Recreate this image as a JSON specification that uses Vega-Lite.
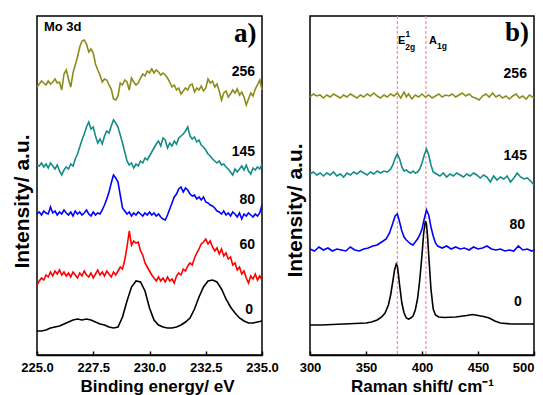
{
"$schema": "https://vega.github.io/schema/vega-lite/v6.json",
"padding": {"left": 10, "top": 14, "right": 5, "bottom": 0},
"spacing": 48,
"bounds": "flush",
"config": {
 "view": {"stroke": "black", "strokeWidth": 1.5},
 "font": "Liberation Sans",
 "axis": {"grid": false, "labelFont": "Liberation Sans", "labelFontWeight": "bold", "labelFontSize": 13, "labelColor": "black", "titleFont": "Liberation Sans", "titleFontWeight": "bold", "titleColor": "black", "domainColor": "black", "tickColor": "black"}
},
"datasets": {
 "xps": [
{"s":"0","x":225.0,"y":24},{"s":"0","x":225.2,"y":24},{"s":"0","x":225.4,"y":25},{"s":"0","x":225.6,"y":27},{"s":"0","x":225.8,"y":28},{"s":"0","x":226.0,"y":29},{"s":"0","x":226.2,"y":31},{"s":"0","x":226.4,"y":33},{"s":"0","x":226.6,"y":35},{"s":"0","x":226.8,"y":36},{"s":"0","x":227.0,"y":35},{"s":"0","x":227.2,"y":36},{"s":"0","x":227.4,"y":35},{"s":"0","x":227.6,"y":33},{"s":"0","x":227.8,"y":31},{"s":"0","x":228.0,"y":30},{"s":"0","x":228.2,"y":28},{"s":"0","x":228.4,"y":27},{"s":"0","x":228.6,"y":28},{"s":"0","x":228.8,"y":38},{"s":"0","x":229.0,"y":54},{"s":"0","x":229.2,"y":68},{"s":"0","x":229.4,"y":74},{"s":"0","x":229.6,"y":73},{"s":"0","x":229.8,"y":64},{"s":"0","x":230.0,"y":47},{"s":"0","x":230.2,"y":35},{"s":"0","x":230.4,"y":30},{"s":"0","x":230.6,"y":28},{"s":"0","x":230.8,"y":27},{"s":"0","x":231.0,"y":27},{"s":"0","x":231.2,"y":28},{"s":"0","x":231.4,"y":30},{"s":"0","x":231.6,"y":33},{"s":"0","x":231.8,"y":37},{"s":"0","x":232.0,"y":46},{"s":"0","x":232.2,"y":58},{"s":"0","x":232.4,"y":68},{"s":"0","x":232.6,"y":74},{"s":"0","x":232.8,"y":75},{"s":"0","x":233.0,"y":73},{"s":"0","x":233.2,"y":66},{"s":"0","x":233.4,"y":56},{"s":"0","x":233.6,"y":48},{"s":"0","x":233.8,"y":42},{"s":"0","x":234.0,"y":37},{"s":"0","x":234.2,"y":34},{"s":"0","x":234.4,"y":32},{"s":"0","x":234.6,"y":32},{"s":"0","x":234.8,"y":33},{"s":"0","x":235.0,"y":34},
{"s":"60","x":225.0,"y":70},{"s":"60","x":225.1,"y":74},{"s":"60","x":225.2,"y":77},{"s":"60","x":225.3,"y":75},{"s":"60","x":225.4,"y":80},{"s":"60","x":225.5,"y":78},{"s":"60","x":225.6,"y":83},{"s":"60","x":225.7,"y":79},{"s":"60","x":225.8,"y":84},{"s":"60","x":225.9,"y":81},{"s":"60","x":226.0,"y":85},{"s":"60","x":226.1,"y":80},{"s":"60","x":226.2,"y":83},{"s":"60","x":226.3,"y":79},{"s":"60","x":226.4,"y":82},{"s":"60","x":226.5,"y":78},{"s":"60","x":226.6,"y":83},{"s":"60","x":226.7,"y":80},{"s":"60","x":226.8,"y":77},{"s":"60","x":226.9,"y":82},{"s":"60","x":227.0,"y":79},{"s":"60","x":227.1,"y":84},{"s":"60","x":227.2,"y":80},{"s":"60","x":227.3,"y":78},{"s":"60","x":227.4,"y":82},{"s":"60","x":227.5,"y":77},{"s":"60","x":227.6,"y":81},{"s":"60","x":227.7,"y":85},{"s":"60","x":227.8,"y":80},{"s":"60","x":227.9,"y":83},{"s":"60","x":228.0,"y":79},{"s":"60","x":228.1,"y":84},{"s":"60","x":228.2,"y":81},{"s":"60","x":228.3,"y":78},{"s":"60","x":228.4,"y":83},{"s":"60","x":228.5,"y":80},{"s":"60","x":228.6,"y":84},{"s":"60","x":228.7,"y":88},{"s":"60","x":228.8,"y":86},{"s":"60","x":228.9,"y":95},{"s":"60","x":229.0,"y":108},{"s":"60","x":229.1,"y":124},{"s":"60","x":229.2,"y":110},{"s":"60","x":229.3,"y":114},{"s":"60","x":229.4,"y":112},{"s":"60","x":229.5,"y":113},{"s":"60","x":229.6,"y":104},{"s":"60","x":229.7,"y":100},{"s":"60","x":229.8,"y":92},{"s":"60","x":229.9,"y":88},{"s":"60","x":230.0,"y":84},{"s":"60","x":230.1,"y":80},{"s":"60","x":230.2,"y":77},{"s":"60","x":230.3,"y":74},{"s":"60","x":230.4,"y":78},{"s":"60","x":230.5,"y":74},{"s":"60","x":230.6,"y":77},{"s":"60","x":230.7,"y":73},{"s":"60","x":230.8,"y":78},{"s":"60","x":230.9,"y":74},{"s":"60","x":231.0,"y":76},{"s":"60","x":231.1,"y":72},{"s":"60","x":231.2,"y":79},{"s":"60","x":231.3,"y":82},{"s":"60","x":231.4,"y":80},{"s":"60","x":231.5,"y":86},{"s":"60","x":231.6,"y":84},{"s":"60","x":231.7,"y":89},{"s":"60","x":231.8,"y":92},{"s":"60","x":231.9,"y":90},{"s":"60","x":232.0,"y":97},{"s":"60","x":232.1,"y":102},{"s":"60","x":232.2,"y":106},{"s":"60","x":232.3,"y":111},{"s":"60","x":232.4,"y":113},{"s":"60","x":232.5,"y":116},{"s":"60","x":232.6,"y":111},{"s":"60","x":232.7,"y":114},{"s":"60","x":232.8,"y":108},{"s":"60","x":232.9,"y":104},{"s":"60","x":233.0,"y":107},{"s":"60","x":233.1,"y":101},{"s":"60","x":233.2,"y":106},{"s":"60","x":233.3,"y":99},{"s":"60","x":233.4,"y":102},{"s":"60","x":233.5,"y":96},{"s":"60","x":233.6,"y":98},{"s":"60","x":233.7,"y":90},{"s":"60","x":233.8,"y":92},{"s":"60","x":233.9,"y":85},{"s":"60","x":234.0,"y":88},{"s":"60","x":234.1,"y":81},{"s":"60","x":234.2,"y":84},{"s":"60","x":234.3,"y":77},{"s":"60","x":234.4,"y":72},{"s":"60","x":234.5,"y":79},{"s":"60","x":234.6,"y":76},{"s":"60","x":234.7,"y":81},{"s":"60","x":234.8,"y":75},{"s":"60","x":234.9,"y":79},{"s":"60","x":235.0,"y":75},
{"s":"80","x":225.0,"y":141},{"s":"80","x":225.1,"y":143},{"s":"80","x":225.2,"y":140},{"s":"80","x":225.3,"y":144},{"s":"80","x":225.4,"y":142},{"s":"80","x":225.5,"y":141},{"s":"80","x":225.6,"y":148},{"s":"80","x":225.7,"y":142},{"s":"80","x":225.8,"y":144},{"s":"80","x":225.9,"y":140},{"s":"80","x":226.0,"y":143},{"s":"80","x":226.1,"y":141},{"s":"80","x":226.2,"y":145},{"s":"80","x":226.3,"y":142},{"s":"80","x":226.4,"y":140},{"s":"80","x":226.5,"y":143},{"s":"80","x":226.6,"y":139},{"s":"80","x":226.7,"y":144},{"s":"80","x":226.8,"y":141},{"s":"80","x":226.9,"y":143},{"s":"80","x":227.0,"y":140},{"s":"80","x":227.1,"y":142},{"s":"80","x":227.2,"y":145},{"s":"80","x":227.3,"y":141},{"s":"80","x":227.4,"y":139},{"s":"80","x":227.5,"y":143},{"s":"80","x":227.6,"y":140},{"s":"80","x":227.7,"y":142},{"s":"80","x":227.8,"y":141},{"s":"80","x":227.9,"y":145},{"s":"80","x":228.0,"y":150},{"s":"80","x":228.1,"y":156},{"s":"80","x":228.2,"y":163},{"s":"80","x":228.3,"y":172},{"s":"80","x":228.4,"y":180},{"s":"80","x":228.5,"y":177},{"s":"80","x":228.6,"y":173},{"s":"80","x":228.7,"y":160},{"s":"80","x":228.8,"y":147},{"s":"80","x":228.9,"y":144},{"s":"80","x":229.0,"y":141},{"s":"80","x":229.1,"y":143},{"s":"80","x":229.2,"y":139},{"s":"80","x":229.3,"y":142},{"s":"80","x":229.4,"y":140},{"s":"80","x":229.5,"y":143},{"s":"80","x":229.6,"y":141},{"s":"80","x":229.7,"y":139},{"s":"80","x":229.8,"y":142},{"s":"80","x":229.9,"y":140},{"s":"80","x":230.0,"y":143},{"s":"80","x":230.1,"y":140},{"s":"80","x":230.2,"y":142},{"s":"80","x":230.3,"y":139},{"s":"80","x":230.4,"y":141},{"s":"80","x":230.5,"y":138},{"s":"80","x":230.6,"y":136},{"s":"80","x":230.7,"y":135},{"s":"80","x":230.8,"y":140},{"s":"80","x":230.9,"y":146},{"s":"80","x":231.0,"y":152},{"s":"80","x":231.1,"y":158},{"s":"80","x":231.2,"y":161},{"s":"80","x":231.3,"y":166},{"s":"80","x":231.4,"y":168},{"s":"80","x":231.5,"y":163},{"s":"80","x":231.6,"y":167},{"s":"80","x":231.7,"y":165},{"s":"80","x":231.8,"y":161},{"s":"80","x":231.9,"y":159},{"s":"80","x":232.0,"y":160},{"s":"80","x":232.1,"y":156},{"s":"80","x":232.2,"y":158},{"s":"80","x":232.3,"y":155},{"s":"80","x":232.4,"y":158},{"s":"80","x":232.5,"y":153},{"s":"80","x":232.6,"y":152},{"s":"80","x":232.7,"y":150},{"s":"80","x":232.8,"y":149},{"s":"80","x":232.9,"y":147},{"s":"80","x":233.0,"y":144},{"s":"80","x":233.1,"y":143},{"s":"80","x":233.2,"y":141},{"s":"80","x":233.3,"y":144},{"s":"80","x":233.4,"y":140},{"s":"80","x":233.5,"y":142},{"s":"80","x":233.6,"y":139},{"s":"80","x":233.7,"y":143},{"s":"80","x":233.8,"y":141},{"s":"80","x":233.9,"y":138},{"s":"80","x":234.0,"y":142},{"s":"80","x":234.1,"y":136},{"s":"80","x":234.2,"y":141},{"s":"80","x":234.3,"y":139},{"s":"80","x":234.4,"y":142},{"s":"80","x":234.5,"y":140},{"s":"80","x":234.6,"y":138},{"s":"80","x":234.7,"y":141},{"s":"80","x":234.8,"y":139},{"s":"80","x":234.9,"y":142},{"s":"80","x":235.0,"y":150},
{"s":"145","x":225.0,"y":190},{"s":"145","x":225.1,"y":189},{"s":"145","x":225.2,"y":192},{"s":"145","x":225.3,"y":188},{"s":"145","x":225.4,"y":191},{"s":"145","x":225.5,"y":187},{"s":"145","x":225.6,"y":192},{"s":"145","x":225.7,"y":189},{"s":"145","x":225.8,"y":186},{"s":"145","x":225.9,"y":190},{"s":"145","x":226.0,"y":184},{"s":"145","x":226.1,"y":180},{"s":"145","x":226.2,"y":185},{"s":"145","x":226.3,"y":188},{"s":"145","x":226.4,"y":186},{"s":"145","x":226.5,"y":191},{"s":"145","x":226.6,"y":189},{"s":"145","x":226.7,"y":196},{"s":"145","x":226.8,"y":201},{"s":"145","x":226.9,"y":208},{"s":"145","x":227.0,"y":215},{"s":"145","x":227.1,"y":221},{"s":"145","x":227.2,"y":228},{"s":"145","x":227.3,"y":233},{"s":"145","x":227.4,"y":226},{"s":"145","x":227.5,"y":228},{"s":"145","x":227.6,"y":219},{"s":"145","x":227.7,"y":212},{"s":"145","x":227.8,"y":216},{"s":"145","x":227.9,"y":211},{"s":"145","x":228.0,"y":219},{"s":"145","x":228.1,"y":224},{"s":"145","x":228.2,"y":222},{"s":"145","x":228.3,"y":229},{"s":"145","x":228.4,"y":235},{"s":"145","x":228.5,"y":232},{"s":"145","x":228.6,"y":228},{"s":"145","x":228.7,"y":220},{"s":"145","x":228.8,"y":212},{"s":"145","x":228.9,"y":203},{"s":"145","x":229.0,"y":194},{"s":"145","x":229.1,"y":190},{"s":"145","x":229.2,"y":192},{"s":"145","x":229.3,"y":187},{"s":"145","x":229.4,"y":191},{"s":"145","x":229.5,"y":189},{"s":"145","x":229.6,"y":194},{"s":"145","x":229.7,"y":192},{"s":"145","x":229.8,"y":197},{"s":"145","x":229.9,"y":195},{"s":"145","x":230.0,"y":199},{"s":"145","x":230.1,"y":203},{"s":"145","x":230.2,"y":207},{"s":"145","x":230.3,"y":211},{"s":"145","x":230.4,"y":214},{"s":"145","x":230.5,"y":209},{"s":"145","x":230.6,"y":217},{"s":"145","x":230.7,"y":215},{"s":"145","x":230.8,"y":207},{"s":"145","x":230.9,"y":212},{"s":"145","x":231.0,"y":209},{"s":"145","x":231.1,"y":214},{"s":"145","x":231.2,"y":211},{"s":"145","x":231.3,"y":217},{"s":"145","x":231.4,"y":219},{"s":"145","x":231.5,"y":221},{"s":"145","x":231.6,"y":224},{"s":"145","x":231.7,"y":228},{"s":"145","x":231.8,"y":219},{"s":"145","x":231.9,"y":216},{"s":"145","x":232.0,"y":218},{"s":"145","x":232.1,"y":213},{"s":"145","x":232.2,"y":215},{"s":"145","x":232.3,"y":210},{"s":"145","x":232.4,"y":208},{"s":"145","x":232.5,"y":205},{"s":"145","x":232.6,"y":201},{"s":"145","x":232.7,"y":199},{"s":"145","x":232.8,"y":196},{"s":"145","x":232.9,"y":194},{"s":"145","x":233.0,"y":192},{"s":"145","x":233.1,"y":194},{"s":"145","x":233.2,"y":190},{"s":"145","x":233.3,"y":191},{"s":"145","x":233.4,"y":188},{"s":"145","x":233.5,"y":186},{"s":"145","x":233.6,"y":183},{"s":"145","x":233.7,"y":180},{"s":"145","x":233.8,"y":186},{"s":"145","x":233.9,"y":183},{"s":"145","x":234.0,"y":186},{"s":"145","x":234.1,"y":189},{"s":"145","x":234.2,"y":185},{"s":"145","x":234.3,"y":190},{"s":"145","x":234.4,"y":184},{"s":"145","x":234.5,"y":181},{"s":"145","x":234.6,"y":187},{"s":"145","x":234.7,"y":185},{"s":"145","x":234.8,"y":188},{"s":"145","x":234.9,"y":186},{"s":"145","x":235.0,"y":191},
{"s":"256","x":225.0,"y":268},{"s":"256","x":225.1,"y":271},{"s":"256","x":225.2,"y":274},{"s":"256","x":225.3,"y":272},{"s":"256","x":225.4,"y":270},{"s":"256","x":225.5,"y":274},{"s":"256","x":225.6,"y":271},{"s":"256","x":225.7,"y":273},{"s":"256","x":225.8,"y":276},{"s":"256","x":225.9,"y":272},{"s":"256","x":226.0,"y":273},{"s":"256","x":226.1,"y":265},{"s":"256","x":226.2,"y":281},{"s":"256","x":226.3,"y":285},{"s":"256","x":226.4,"y":276},{"s":"256","x":226.5,"y":268},{"s":"256","x":226.6,"y":282},{"s":"256","x":226.7,"y":290},{"s":"256","x":226.8,"y":298},{"s":"256","x":226.9,"y":308},{"s":"256","x":227.0,"y":314},{"s":"256","x":227.1,"y":315},{"s":"256","x":227.2,"y":311},{"s":"256","x":227.3,"y":303},{"s":"256","x":227.4,"y":306},{"s":"256","x":227.5,"y":302},{"s":"256","x":227.6,"y":291},{"s":"256","x":227.7,"y":285},{"s":"256","x":227.8,"y":280},{"s":"256","x":227.9,"y":273},{"s":"256","x":228.0,"y":276},{"s":"256","x":228.1,"y":275},{"s":"256","x":228.2,"y":270},{"s":"256","x":228.3,"y":266},{"s":"256","x":228.4,"y":256},{"s":"256","x":228.5,"y":255},{"s":"256","x":228.6,"y":259},{"s":"256","x":228.7,"y":272},{"s":"256","x":228.8,"y":270},{"s":"256","x":228.9,"y":275},{"s":"256","x":229.0,"y":273},{"s":"256","x":229.1,"y":265},{"s":"256","x":229.2,"y":277},{"s":"256","x":229.3,"y":273},{"s":"256","x":229.4,"y":270},{"s":"256","x":229.5,"y":272},{"s":"256","x":229.6,"y":277},{"s":"256","x":229.7,"y":281},{"s":"256","x":229.8,"y":279},{"s":"256","x":229.9,"y":284},{"s":"256","x":230.0,"y":282},{"s":"256","x":230.1,"y":286},{"s":"256","x":230.2,"y":282},{"s":"256","x":230.3,"y":285},{"s":"256","x":230.4,"y":283},{"s":"256","x":230.5,"y":280},{"s":"256","x":230.6,"y":282},{"s":"256","x":230.7,"y":280},{"s":"256","x":230.8,"y":277},{"s":"256","x":230.9,"y":273},{"s":"256","x":231.0,"y":268},{"s":"256","x":231.1,"y":270},{"s":"256","x":231.2,"y":265},{"s":"256","x":231.3,"y":267},{"s":"256","x":231.4,"y":261},{"s":"256","x":231.5,"y":264},{"s":"256","x":231.6,"y":267},{"s":"256","x":231.7,"y":265},{"s":"256","x":231.8,"y":270},{"s":"256","x":231.9,"y":271},{"s":"256","x":232.0,"y":263},{"s":"256","x":232.1,"y":267},{"s":"256","x":232.2,"y":265},{"s":"256","x":232.3,"y":269},{"s":"256","x":232.4,"y":264},{"s":"256","x":232.5,"y":267},{"s":"256","x":232.6,"y":276},{"s":"256","x":232.7,"y":272},{"s":"256","x":232.8,"y":274},{"s":"256","x":232.9,"y":268},{"s":"256","x":233.0,"y":271},{"s":"256","x":233.1,"y":264},{"s":"256","x":233.2,"y":255},{"s":"256","x":233.3,"y":262},{"s":"256","x":233.4,"y":264},{"s":"256","x":233.5,"y":258},{"s":"256","x":233.6,"y":261},{"s":"256","x":233.7,"y":265},{"s":"256","x":233.8,"y":262},{"s":"256","x":233.9,"y":266},{"s":"256","x":234.0,"y":260},{"s":"256","x":234.1,"y":263},{"s":"256","x":234.2,"y":258},{"s":"256","x":234.3,"y":250},{"s":"256","x":234.4,"y":256},{"s":"256","x":234.5,"y":262},{"s":"256","x":234.6,"y":259},{"s":"256","x":234.7,"y":266},{"s":"256","x":234.8,"y":270},{"s":"256","x":234.9,"y":275},{"s":"256","x":235.0,"y":265}
 ],
 "raman": [
{"s":"0","x":300,"y":30},{"s":"0","x":310,"y":30},{"s":"0","x":320,"y":30.5},{"s":"0","x":330,"y":31},{"s":"0","x":340,"y":31.5},{"s":"0","x":350,"y":32},{"s":"0","x":355,"y":33},{"s":"0","x":360,"y":35},{"s":"0","x":364,"y":38},{"s":"0","x":367,"y":42},{"s":"0","x":370,"y":50},{"s":"0","x":372,"y":60},{"s":"0","x":374,"y":74},{"s":"0","x":375.5,"y":85},{"s":"0","x":377,"y":91},{"s":"0","x":378,"y":89},{"s":"0","x":379,"y":80},{"s":"0","x":380,"y":70},{"s":"0","x":382,"y":52},{"s":"0","x":384,"y":42},{"s":"0","x":386,"y":37},{"s":"0","x":388,"y":36},{"s":"0","x":390,"y":37},{"s":"0","x":392,"y":39},{"s":"0","x":394,"y":45},{"s":"0","x":396,"y":56},{"s":"0","x":398,"y":75},{"s":"0","x":400,"y":100},{"s":"0","x":401.5,"y":122},{"s":"0","x":403,"y":134},{"s":"0","x":404,"y":131},{"s":"0","x":405,"y":118},{"s":"0","x":406,"y":100},{"s":"0","x":408,"y":66},{"s":"0","x":410,"y":46},{"s":"0","x":412,"y":40},{"s":"0","x":415,"y":38},{"s":"0","x":420,"y":37.5},{"s":"0","x":430,"y":38},{"s":"0","x":440,"y":39.5},{"s":"0","x":445,"y":40.5},{"s":"0","x":450,"y":39.5},{"s":"0","x":455,"y":38.5},{"s":"0","x":460,"y":37},{"s":"0","x":465,"y":34},{"s":"0","x":470,"y":32},{"s":"0","x":480,"y":31},{"s":"0","x":490,"y":31},{"s":"0","x":500,"y":31},
{"s":"80","x":300,"y":106},{"s":"80","x":304,"y":104},{"s":"80","x":308,"y":108},{"s":"80","x":312,"y":105},{"s":"80","x":316,"y":107},{"s":"80","x":320,"y":104},{"s":"80","x":324,"y":106},{"s":"80","x":328,"y":105},{"s":"80","x":332,"y":104},{"s":"80","x":336,"y":108},{"s":"80","x":340,"y":105},{"s":"80","x":344,"y":104},{"s":"80","x":348,"y":106},{"s":"80","x":352,"y":107},{"s":"80","x":356,"y":109},{"s":"80","x":360,"y":110},{"s":"80","x":364,"y":113},{"s":"80","x":368,"y":116},{"s":"80","x":371,"y":122},{"s":"80","x":374,"y":132},{"s":"80","x":376,"y":139},{"s":"80","x":378,"y":141},{"s":"80","x":380,"y":133},{"s":"80","x":382,"y":124},{"s":"80","x":384,"y":118},{"s":"80","x":386,"y":115},{"s":"80","x":388,"y":113},{"s":"80","x":390,"y":111},{"s":"80","x":392,"y":110},{"s":"80","x":394,"y":113},{"s":"80","x":396,"y":116},{"s":"80","x":398,"y":120},{"s":"80","x":400,"y":126},{"s":"80","x":402,"y":136},{"s":"80","x":404,"y":145},{"s":"80","x":406,"y":140},{"s":"80","x":408,"y":128},{"s":"80","x":410,"y":119},{"s":"80","x":412,"y":112},{"s":"80","x":414,"y":109},{"s":"80","x":418,"y":107},{"s":"80","x":422,"y":109},{"s":"80","x":426,"y":106},{"s":"80","x":430,"y":108},{"s":"80","x":434,"y":106},{"s":"80","x":438,"y":107},{"s":"80","x":442,"y":105},{"s":"80","x":446,"y":108},{"s":"80","x":450,"y":106},{"s":"80","x":454,"y":107},{"s":"80","x":458,"y":109},{"s":"80","x":462,"y":106},{"s":"80","x":466,"y":105},{"s":"80","x":470,"y":106},{"s":"80","x":474,"y":104},{"s":"80","x":478,"y":105},{"s":"80","x":482,"y":104},{"s":"80","x":486,"y":109},{"s":"80","x":490,"y":105},{"s":"80","x":494,"y":106},{"s":"80","x":498,"y":104},{"s":"80","x":500,"y":105},
{"s":"145","x":300,"y":181},{"s":"145","x":303,"y":183},{"s":"145","x":306,"y":180},{"s":"145","x":309,"y":182},{"s":"145","x":312,"y":179},{"s":"145","x":315,"y":182},{"s":"145","x":318,"y":180},{"s":"145","x":321,"y":183},{"s":"145","x":324,"y":179},{"s":"145","x":327,"y":181},{"s":"145","x":330,"y":178},{"s":"145","x":333,"y":182},{"s":"145","x":336,"y":180},{"s":"145","x":339,"y":183},{"s":"145","x":342,"y":181},{"s":"145","x":345,"y":184},{"s":"145","x":348,"y":182},{"s":"145","x":351,"y":180},{"s":"145","x":354,"y":183},{"s":"145","x":357,"y":181},{"s":"145","x":360,"y":184},{"s":"145","x":363,"y":182},{"s":"145","x":366,"y":184},{"s":"145","x":369,"y":183},{"s":"145","x":372,"y":186},{"s":"145","x":374,"y":190},{"s":"145","x":376,"y":197},{"s":"145","x":378,"y":201},{"s":"145","x":380,"y":196},{"s":"145","x":382,"y":188},{"s":"145","x":384,"y":184},{"s":"145","x":386,"y":185},{"s":"145","x":388,"y":183},{"s":"145","x":390,"y":182},{"s":"145","x":392,"y":184},{"s":"145","x":394,"y":182},{"s":"145","x":396,"y":183},{"s":"145","x":398,"y":186},{"s":"145","x":400,"y":192},{"s":"145","x":402,"y":200},{"s":"145","x":404,"y":206},{"s":"145","x":406,"y":200},{"s":"145","x":408,"y":190},{"s":"145","x":410,"y":183},{"s":"145","x":413,"y":181},{"s":"145","x":416,"y":179},{"s":"145","x":419,"y":182},{"s":"145","x":422,"y":178},{"s":"145","x":425,"y":181},{"s":"145","x":428,"y":179},{"s":"145","x":431,"y":182},{"s":"145","x":434,"y":180},{"s":"145","x":437,"y":178},{"s":"145","x":440,"y":181},{"s":"145","x":443,"y":179},{"s":"145","x":446,"y":182},{"s":"145","x":449,"y":180},{"s":"145","x":452,"y":177},{"s":"145","x":455,"y":180},{"s":"145","x":458,"y":178},{"s":"145","x":461,"y":173},{"s":"145","x":464,"y":179},{"s":"145","x":467,"y":175},{"s":"145","x":470,"y":178},{"s":"145","x":473,"y":176},{"s":"145","x":476,"y":179},{"s":"145","x":479,"y":173},{"s":"145","x":482,"y":177},{"s":"145","x":485,"y":182},{"s":"145","x":488,"y":178},{"s":"145","x":491,"y":176},{"s":"145","x":494,"y":177},{"s":"145","x":497,"y":174},{"s":"145","x":500,"y":170},
{"s":"256","x":300,"y":258},{"s":"256","x":303,"y":261},{"s":"256","x":306,"y":259},{"s":"256","x":309,"y":260},{"s":"256","x":312,"y":257},{"s":"256","x":315,"y":260},{"s":"256","x":318,"y":258},{"s":"256","x":321,"y":261},{"s":"256","x":324,"y":259},{"s":"256","x":327,"y":257},{"s":"256","x":330,"y":260},{"s":"256","x":333,"y":258},{"s":"256","x":336,"y":261},{"s":"256","x":339,"y":259},{"s":"256","x":342,"y":257},{"s":"256","x":345,"y":260},{"s":"256","x":348,"y":258},{"s":"256","x":351,"y":261},{"s":"256","x":354,"y":259},{"s":"256","x":357,"y":262},{"s":"256","x":360,"y":259},{"s":"256","x":363,"y":257},{"s":"256","x":366,"y":260},{"s":"256","x":369,"y":258},{"s":"256","x":372,"y":261},{"s":"256","x":375,"y":259},{"s":"256","x":378,"y":262},{"s":"256","x":381,"y":257},{"s":"256","x":384,"y":263},{"s":"256","x":386,"y":258},{"s":"256","x":388,"y":261},{"s":"256","x":391,"y":256},{"s":"256","x":394,"y":260},{"s":"256","x":397,"y":258},{"s":"256","x":400,"y":261},{"s":"256","x":403,"y":258},{"s":"256","x":406,"y":260},{"s":"256","x":409,"y":257},{"s":"256","x":412,"y":259},{"s":"256","x":415,"y":261},{"s":"256","x":418,"y":258},{"s":"256","x":421,"y":260},{"s":"256","x":424,"y":259},{"s":"256","x":427,"y":261},{"s":"256","x":430,"y":258},{"s":"256","x":433,"y":260},{"s":"256","x":436,"y":262},{"s":"256","x":439,"y":259},{"s":"256","x":442,"y":261},{"s":"256","x":445,"y":258},{"s":"256","x":448,"y":257},{"s":"256","x":451,"y":255},{"s":"256","x":454,"y":259},{"s":"256","x":457,"y":261},{"s":"256","x":460,"y":258},{"s":"256","x":463,"y":262},{"s":"256","x":466,"y":258},{"s":"256","x":469,"y":260},{"s":"256","x":472,"y":257},{"s":"256","x":475,"y":259},{"s":"256","x":478,"y":256},{"s":"256","x":481,"y":259},{"s":"256","x":484,"y":261},{"s":"256","x":487,"y":257},{"s":"256","x":490,"y":259},{"s":"256","x":493,"y":256},{"s":"256","x":496,"y":260},{"s":"256","x":500,"y":257}
 ],
 "labA": [{"x":234.69,"y":283,"t":"256"},{"x":234.69,"y":203,"t":"145"},{"x":234.69,"y":155,"t":"80"},{"x":234.69,"y":110,"t":"60"},{"x":234.6,"y":45,"t":"0"}],
 "labB": [{"x":493.7,"y":281,"t":"256"},{"x":493.7,"y":199,"t":"145"},{"x":492,"y":130,"t":"80"},{"x":489,"y":53,"t":"0"}],
 "peaks": [{"x":378},{"x":403.5}]
},
"hconcat": [
 {
  "width": 225, "height": 339,
  "layer": [
   {
    "data": {"name": "xps"},
    "mark": {"type": "line", "strokeWidth": 1.6},
    "encoding": {
     "x": {"field": "x", "type": "quantitative", "scale": {"domain": [225, 235], "nice": false, "zero": false},
       "axis": {"title": "Binding energy/ eV", "values": [225, 226.25, 227.5, 228.75, 230, 231.25, 232.5, 233.75, 235],
         "labelExpr": "datum.value % 2.5 === 0 ? format(datum.value, '.1f') : ''", "labelOverlap": false, "labelFlush": false,
         "tickSize": -4, "tickWidth": 1.5, "domainWidth": 1.5, "labelPadding": 20, "labelBaseline": "alphabetic",
         "titleFontSize": 17, "titleBaseline": "alphabetic", "titleY": 36, "titleX": 120}},
     "y": {"field": "y", "type": "quantitative", "scale": {"domain": [0, 339], "nice": false, "zero": false},
       "axis": {"title": "Intensity/ a.u.", "labels": false, "ticks": false, "domain": false, "titleFontSize": 21, "titlePadding": 5, "titleY": 185}},
     "color": {"field": "s", "type": "nominal", "scale": {"domain": ["0", "60", "80", "145", "256"], "range": ["#000000", "#ff0000", "#0000ff", "#138c87", "#8c8c1a"]}, "legend": null}
    }
   },
   {
    "data": {"name": "labA"},
    "mark": {"type": "text", "align": "right", "baseline": "middle", "fontSize": 14, "fontWeight": "bold", "font": "Liberation Sans", "color": "black"},
    "encoding": {
     "x": {"field": "x", "type": "quantitative"},
     "y": {"field": "y", "type": "quantitative"},
     "text": {"field": "t"}
    }
   },
   {
    "data": {"values": [{"x": 225.31, "y": 328, "t": "Mo 3d"}]},
    "mark": {"type": "text", "align": "left", "baseline": "middle", "fontSize": 13, "fontWeight": "bold", "font": "Liberation Sans", "color": "black"},
    "encoding": {
     "x": {"field": "x", "type": "quantitative"},
     "y": {"field": "y", "type": "quantitative"},
     "text": {"field": "t"}
    }
   },
   {
    "data": {"values": [{"x": 234.75, "y": 321, "t": "a)"}]},
    "mark": {"type": "text", "align": "right", "baseline": "middle", "fontSize": 27, "fontWeight": "bold", "font": "Liberation Serif", "color": "black"},
    "encoding": {
     "x": {"field": "x", "type": "quantitative"},
     "y": {"field": "y", "type": "quantitative"},
     "text": {"field": "t"}
    }
   }
  ]
 },
 {
  "width": 224, "height": 339,
  "layer": [
   {
    "data": {"name": "peaks"},
    "mark": {"type": "rule", "color": "#ff8a8a", "strokeDash": [3, 2], "strokeWidth": 1.2},
    "encoding": {
     "x": {"field": "x", "type": "quantitative"}
    }
   },
   {
    "data": {"name": "raman"},
    "mark": {"type": "line", "strokeWidth": 1.6},
    "encoding": {
     "x": {"field": "x", "type": "quantitative", "scale": {"domain": [300, 500], "nice": false, "zero": false},
       "axis": {"title": "Raman shift/ cm⁻¹", "values": [300, 325, 350, 375, 400, 425, 450, 475, 500],
         "labelExpr": "datum.value % 50 === 0 ? format(datum.value, 'd') : ''", "labelOverlap": false, "labelFlush": false,
         "tickSize": -4, "tickWidth": 1.5, "domainWidth": 1.5, "labelPadding": 20, "labelBaseline": "alphabetic",
         "labelAlign": {"condition": {"test": "datum.value === 500", "value": "right"}, "value": "center"},
         "titleFontSize": 17, "titleBaseline": "alphabetic", "titleY": 36}},
     "y": {"field": "y", "type": "quantitative", "scale": {"domain": [0, 339], "nice": false, "zero": false},
       "axis": {"title": "Intensity/ a.u.", "labels": false, "ticks": false, "domain": false, "titleFontSize": 21, "titlePadding": 5, "titleY": 194}},
     "color": {"field": "s", "type": "nominal", "scale": {"domain": ["0", "60", "80", "145", "256"], "range": ["#000000", "#ff0000", "#0000ff", "#138c87", "#8c8c1a"]}, "legend": null}
    }
   },
   {
    "data": {"name": "labB"},
    "mark": {"type": "text", "align": "right", "baseline": "middle", "fontSize": 14, "fontWeight": "bold", "font": "Liberation Sans", "color": "black"},
    "encoding": {
     "x": {"field": "x", "type": "quantitative"},
     "y": {"field": "y", "type": "quantitative"},
     "text": {"field": "t"}
    }
   },
   {
    "data": {"values": [{"x": 495.5, "y": 322, "t": "b)"}]},
    "mark": {"type": "text", "align": "right", "baseline": "middle", "fontSize": 27, "fontWeight": "bold", "font": "Liberation Serif", "color": "black"},
    "encoding": {
     "x": {"field": "x", "type": "quantitative"},
     "y": {"field": "y", "type": "quantitative"},
     "text": {"field": "t"}
    }
   },
   {
    "data": {"values": [{"x": 378.6, "y": 314.5, "t": "E"}, {"x": 406.3, "y": 314.5, "t": "A"}]},
    "mark": {"type": "text", "align": "left", "baseline": "middle", "fontSize": 11, "fontWeight": "bold", "font": "Liberation Sans", "color": "black"},
    "encoding": {
     "x": {"field": "x", "type": "quantitative"},
     "y": {"field": "y", "type": "quantitative"},
     "text": {"field": "t"}
    }
   },
   {
    "data": {"values": [{"x": 385.0, "y": 308.5, "t": "2g"}, {"x": 413.5, "y": 309.5, "t": "1g"}, {"x": 385.3, "y": 321, "t": "1"}]},
    "mark": {"type": "text", "align": "left", "baseline": "middle", "fontSize": 8.5, "fontWeight": "bold", "font": "Liberation Sans", "color": "black"},
    "encoding": {
     "x": {"field": "x", "type": "quantitative"},
     "y": {"field": "y", "type": "quantitative"},
     "text": {"field": "t"}
    }
   }
  ]
 }
]
}
